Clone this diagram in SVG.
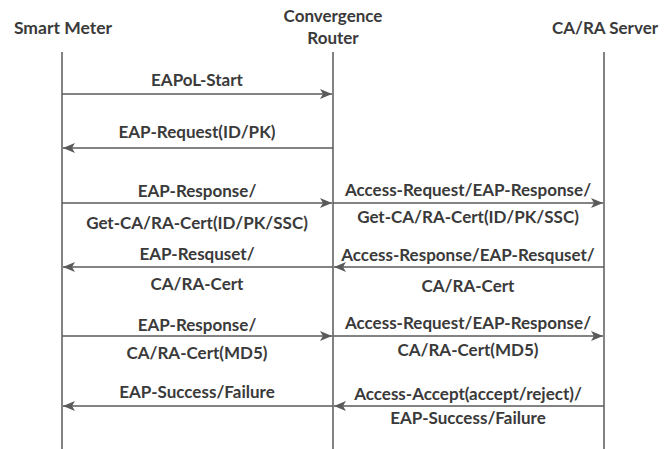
<svg xmlns="http://www.w3.org/2000/svg" width="667" height="449" viewBox="0 0 667 449">
<style>
text{font-family:Lato,"Open Sans","Liberation Sans",sans-serif;font-weight:bold;font-size:17px;fill:#3a3a3a;text-anchor:middle;dominant-baseline:central}
.life{stroke:#5a5a5a;stroke-width:1.5;fill:none}
.msg{stroke:#5a5a5a;stroke-width:1.5;fill:none;marker-end:url(#ah)}
</style>
<defs>
<marker id="ah" viewBox="0 0 12 10" refX="12" refY="5" markerWidth="12" markerHeight="10" markerUnits="userSpaceOnUse" orient="auto">
<path d="M0,0 L12,5 L0,10 L3,5 Z" fill="#5a5a5a"/>
</marker>
</defs>
<g id="smart-meter">
<text x="63" y="27" style="font-size:17.5px">Smart Meter</text>
<line class="life" x1="62" y1="52" x2="62" y2="449"/>
</g>
<g id="convergence-router">
<text x="333" y="15">Convergence</text>
<text x="333" y="37">Router</text>
<line class="life" x1="333" y1="52" x2="333" y2="449"/>
</g>
<g id="ca-ra-server">
<text x="605" y="27">CA/RA Server</text>
<line class="life" x1="604" y1="52" x2="604" y2="449"/>
</g>
<g id="connectors">
<line class="msg" x1="62" y1="94" x2="332" y2="94"/>
<text x="197" y="79">EAPoL-Start</text>
<line class="msg" x1="333" y1="148" x2="63" y2="148"/>
<text x="197" y="131">EAP-Request(ID/PK)</text>
<line class="msg" x1="62" y1="203" x2="332" y2="203"/>
<text x="197" y="190">EAP-Response/</text>
<text x="197" y="222">Get-CA/RA-Cert(ID/PK/SSC)</text>
<line class="msg" x1="333" y1="203" x2="603" y2="203"/>
<text x="468" y="189">Access-Request/EAP-Response/</text>
<text x="468" y="216">Get-CA/RA-Cert(ID/PK/SSC)</text>
<line class="msg" x1="604" y1="267" x2="334" y2="267"/>
<text x="468" y="254">Access-Response/EAP-Resquset/</text>
<text x="468" y="285">CA/RA-Cert</text>
<line class="msg" x1="333" y1="267" x2="63" y2="267"/>
<text x="197" y="253">EAP-Resquset/</text>
<text x="197" y="283">CA/RA-Cert</text>
<line class="msg" x1="62" y1="336" x2="332" y2="336"/>
<text x="197" y="324">EAP-Response/</text>
<text x="197" y="352">CA/RA-Cert(MD5)</text>
<line class="msg" x1="333" y1="336" x2="603" y2="336"/>
<text x="468" y="322">Access-Request/EAP-Response/</text>
<text x="468" y="349">CA/RA-Cert(MD5)</text>
<line class="msg" x1="604" y1="406" x2="334" y2="406"/>
<text x="468" y="393">Access-Accept(accept/reject)/</text>
<text x="468" y="417">EAP-Success/Failure</text>
<line class="msg" x1="333" y1="406" x2="63" y2="406"/>
<text x="197" y="391">EAP-Success/Failure</text>
</g>
</svg>
